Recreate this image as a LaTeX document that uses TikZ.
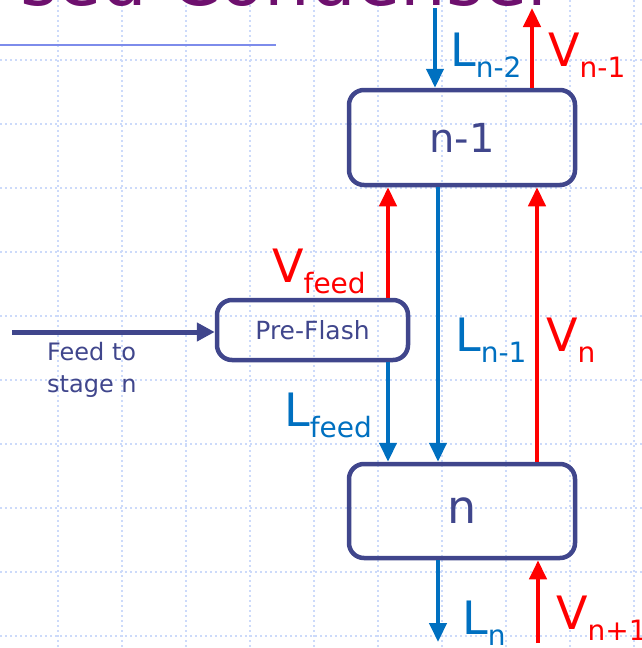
\documentclass[tikz,border=0pt]{standalone}
\usepackage{fontspec}
\setmainfont{DejaVu Sans}
\usetikzlibrary{arrows.meta}
\definecolor{stagecol}{RGB}{64,70,140}
\definecolor{liqblue}{RGB}{0,112,192}
\definecolor{vapred}{RGB}{255,0,0}
\definecolor{gridcol}{RGB}{204,218,250}
\definecolor{titlecol}{RGB}{110,16,110}
\definecolor{rulecol}{RGB}{125,140,235}
% stream label: big letter, lowered subscript
\newcommand{\strm}[2]{{\fontsize{46}{46}\selectfont #1}\raisebox{-11pt}{\fontsize{28}{28}\selectfont #2}}
\tikzset{
  stage/.style={draw=stagecol,line width=4.5pt,rounded corners=15pt,text=stagecol,inner sep=0pt},
  liq/.style={liqblue,line width=4.5pt,-{Triangle[width=17pt,length=19pt]}},
  vap/.style={vapred,line width=4.5pt,-{Triangle[width=17pt,length=19pt]}},
  feedline/.style={stagecol,line width=5pt,-{Triangle[width=18pt,length=18pt]}},
  gridline/.style={gridcol,line width=1.5pt,dash pattern=on 2pt off 3pt},
  lbl/.style={anchor=base west,inner sep=0pt},
}
\begin{document}
\begin{tikzpicture}[x=1pt,y=-1pt]
\useasboundingbox (0,0) rectangle (642,648);
\clip (0,0) rectangle (642,648);
% background grid
\foreach \gx in {58,122,...,634} \draw[gridline] (\gx,0) -- (\gx,648);
\foreach \gy in {60,124,...,636} \draw[gridline] (0,\gy) -- (642,\gy);
% slide title (cut off) and rule
\node[lbl,text=titlecol,font=\fontsize{72}{72}\selectfont] (title) at (20,5) {sed Condenser};
\draw[rulecol,line width=2pt] (0,45) -- (276,45);
% stages
\node[stage,minimum width=226pt,minimum height=95pt,font=\fontsize{40}{40}\selectfont] (up) at (462,137.5) {n-1};
\node[stage,minimum width=226pt,minimum height=94pt,font=\fontsize{46}{46}\selectfont] (low) at (462,511) {n};
\node[stage,minimum width=191pt,minimum height=60pt,font=\fontsize{25}{25}\selectfont] (pre) at (312.5,330) {Pre-Flash};
% stream positions
\coordinate (xltop) at (435,8);
\coordinate (xvtop) at (532,8);
\coordinate (xfeed) at (388,0);
\coordinate (xliq) at (438,0);
\coordinate (xvap) at (537,0);
\coordinate (lbot) at (438,642);
\coordinate (vbot) at (538,643);
\coordinate (feedin) at (12,332);
% streams
\draw[liq] (xltop) -- (xltop |- up.north);
\draw[vap] (xvtop |- up.north) -- (xvtop);
\draw[vap] (xfeed |- pre.north) -- (xfeed |- up.south);
\draw[liq] (xfeed |- pre.south) -- (xfeed |- low.north);
\draw[liq] (xliq |- up.south) -- (xliq |- low.north);
\draw[vap] (xvap |- low.north) -- (xvap |- up.south);
\draw[liq] (xliq |- low.south) -- (lbot);
\draw[vap] (vbot) -- (vbot |- low.south);
\draw[feedline] (feedin) -- (feedin -| pre.west);
% labels
\node[lbl,text=liqblue] (lnm2) at (450,66) {\strm{L}{n-2}};
\node[lbl,text=vapred] (vnm1) at (548,66) {\strm{V}{n-1}};
\node[lbl,text=vapred] (vfeed) at (272,282) {\strm{V}{feed}};
\node[lbl,text=liqblue] (lnm1) at (455,351) {\strm{L}{n-1}};
\node[lbl,text=vapred] (vn) at (546,351) {\strm{V}{n}};
\node[lbl,text=liqblue] (lfeed) at (284,426) {\strm{L}{feed}};
\node[lbl,text=liqblue] (ln) at (462,634) {\strm{L}{n}};
\node[lbl,text=vapred] (vnp1) at (556,629) {\strm{V}{n+1}};
\node[anchor=north west,inner sep=0pt,align=left,text=stagecol,font=\fontsize{24}{32}\selectfont] (feedtxt) at (47,342) {Feed to\\stage n};
\end{tikzpicture}
\end{document}
